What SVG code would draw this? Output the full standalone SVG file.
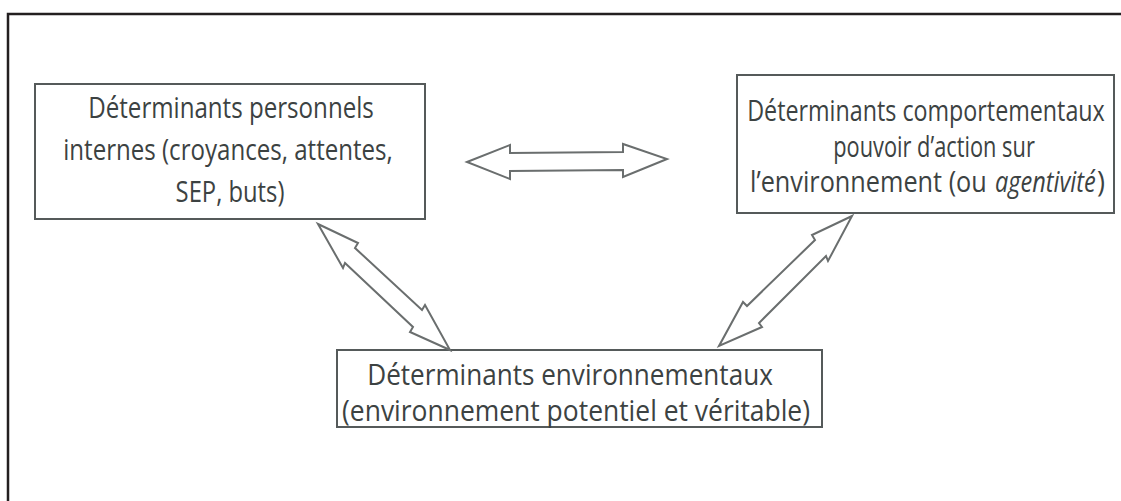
<svg xmlns="http://www.w3.org/2000/svg" width="1121" height="501" viewBox="0 0 1121 501">
<style>
.box{fill:#fff;stroke:#555a5a;stroke-width:2}
.arr{fill:#fff;stroke:#6a6e6e;stroke-width:2;stroke-linejoin:miter}
text{font-family:"Open Sans","Noto Sans","Liberation Sans",sans-serif;font-size:29px;fill:#3c4242;text-anchor:middle}
.st{text-anchor:start}
</style>
<rect x="0" y="0" width="1121" height="501" fill="#fff"/>
<rect x="8" y="14" width="1200" height="600" fill="none" stroke="#231f20" stroke-width="2.5"/>
<g id="n1">
<rect class="box" x="35" y="84" width="390" height="135"/>
<text transform="translate(231,118) scale(0.8,1)" textLength="357" lengthAdjust="spacingAndGlyphs">Déterminants personnels</text>
<text transform="translate(228,160) scale(0.8,1)" textLength="412" lengthAdjust="spacingAndGlyphs">internes (croyances, attentes,</text>
<text transform="translate(230,202) scale(0.8,1)" textLength="136" lengthAdjust="spacingAndGlyphs">SEP, buts)</text>
</g>
<g id="n2">
<rect class="box" x="737" y="75" width="377" height="138"/>
<text transform="translate(926,121) scale(0.8,1)" textLength="447" lengthAdjust="spacingAndGlyphs">Déterminants comportementaux</text>
<text transform="translate(934,157) scale(0.8,1)" textLength="252" lengthAdjust="spacingAndGlyphs">pouvoir d’action sur</text>
<text class="st" transform="translate(750,192) scale(0.8,1)" textLength="296" lengthAdjust="spacingAndGlyphs">l’environnement (ou</text>
<text class="st" transform="translate(995,192) scale(0.8,1)" textLength="126" lengthAdjust="spacingAndGlyphs" font-style="italic">agentivité</text>
<text class="st" transform="translate(1097,192) scale(0.8,1)" textLength="10" lengthAdjust="spacingAndGlyphs">)</text>
</g>
<g id="n3">
<rect class="box" x="337" y="350" width="485" height="77"/>
<text transform="translate(570,385) scale(0.8,1)" textLength="507" lengthAdjust="spacingAndGlyphs">Déterminants environnementaux</text>
<text transform="translate(576,421) scale(0.8,1)" textLength="585" lengthAdjust="spacingAndGlyphs">(environnement potentiel et véritable)</text>
</g>
<g id="connectors">
<polygon class="arr" points="467,162 510,145 510,153 623,152 623,144 667,159 623,177 623,170 510,171 510,179"/>
<polygon class="arr" points="318,224 358,243 355,248 422,310 425,305 450,350 410,332 413,327 345,263 343,268"/>
<polygon class="arr" points="852,216 812,235 815,240 747,306 743,302 719,346 762,327 759,323 826,256 828,261"/>
</g>
</svg>
